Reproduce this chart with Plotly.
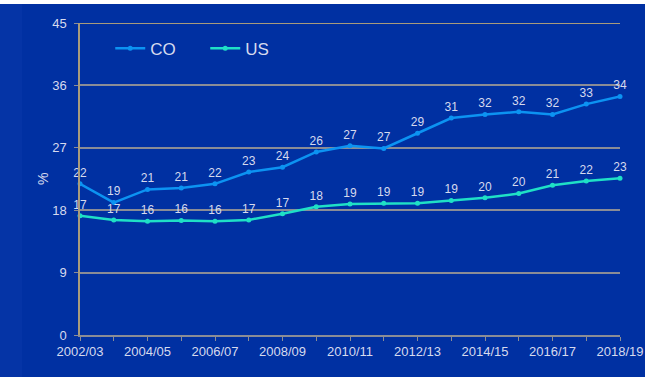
import plotly.graph_objects as go

years = ["2002/03", "2003/04", "2004/05", "2005/06", "2006/07", "2007/08", "2008/09",
         "2009/10", "2010/11", "2011/12", "2012/13", "2013/14", "2014/15", "2015/16",
         "2016/17", "2017/18", "2018/19"]
co_values = [21.8, 19.1, 21.0, 21.2, 21.8, 23.5, 24.2, 26.4, 27.3, 26.9, 29.1, 31.3,
             31.8, 32.2, 31.8, 33.3, 34.4]
us_values = [17.2, 16.6, 16.4, 16.5, 16.4, 16.6, 17.5, 18.5, 18.9, 19.0, 19.0, 19.4,
             19.8, 20.4, 21.6, 22.2, 22.6]
co_labels = ["22", "19", "21", "21", "22", "23", "24", "26", "27", "27", "29", "31",
             "32", "32", "32", "33", "34"]
us_labels = ["17", "17", "16", "16", "16", "17", "17", "18", "19", "19", "19", "19",
             "20", "20", "21", "22", "23"]
y_ticks = [0, 9, 18, 27, 36, 45]

BG = "#0030A2"
TXT = "#D6DAEE"
FONT = "Liberation Sans, Arial, sans-serif"

xs = list(range(len(years)))
fig = go.Figure()
fig.add_trace(go.Scatter(
    x=xs, y=co_values, name="CO", mode="lines+markers+text",
    text=co_labels, textposition="top center",
    textfont=dict(color=TXT, size=12, family=FONT),
    line=dict(color="#0C93F2", width=2.5), marker=dict(size=5, color="#0C93F2"),
    cliponaxis=False))
fig.add_trace(go.Scatter(
    x=xs, y=us_values, name="US", mode="lines+markers+text",
    text=us_labels, textposition="top center",
    textfont=dict(color=TXT, size=12, family=FONT),
    line=dict(color="#1FE0C6", width=2.5), marker=dict(size=5, color="#1FE0C6"),
    cliponaxis=False))

H, T, B, L, R = 377, 23, 42, 80, 25
ph = H - T - B
pw = 645 - L - R
fig.update_layout(
    width=645, height=377,
    margin=dict(l=L, r=R, t=T, b=B, autoexpand=False),
    paper_bgcolor=BG, plot_bgcolor=BG,
    font=dict(family=FONT, color=TXT, size=13),
    showlegend=True,
    legend=dict(orientation="h", x=0.056, y=0.975, xanchor="left", yanchor="top",
                bgcolor="rgba(0,0,0,0)", font=dict(size=17, color=TXT, family=FONT),
                itemwidth=30, entrywidth=50, entrywidthmode="pixels"),
    xaxis=dict(range=[0, 16], tickvals=xs[::2], ticktext=years[::2], automargin=False,
               showgrid=False, zeroline=False, showline=True, linecolor="#8A8C96",
               linewidth=1.5, ticks="outside", ticklen=4, tickcolor="#8A8C96",
               minor=dict(dtick=1, ticks="outside", ticklen=4, tickcolor="#8A8C96"),
               tickfont=dict(size=13, color=TXT)),
    yaxis=dict(range=[0, 45], tickvals=y_ticks, showgrid=True, gridcolor="#8A8C96",
               gridwidth=1.5, zeroline=False, showline=True, linecolor="#A89B7C",
               linewidth=1.5, ticks="outside", ticklen=4, tickcolor="#8A8C96",
               ticklabelstandoff=5, automargin=False,
               tickfont=dict(size=13, color=TXT)),
    annotations=[
        dict(text="%", xref="paper", yref="paper", x=(43 - L) / pw, y=0.5,
             textangle=-90, showarrow=False, font=dict(size=14, color=TXT, family=FONT),
             xanchor="center", yanchor="middle"),
    ],
    shapes=[
        dict(type="rect", xref="paper", yref="paper", x0=-L / pw, x1=-(L - 22) / pw,
             y0=-B / ph, y1=1 + T / ph, fillcolor="#0534A6", line=dict(width=0),
             layer="below"),
        dict(type="rect", xref="paper", yref="paper", x0=-L / pw, x1=1 + R / pw,
             y0=1 + (T - 4) / ph, y1=1 + T / ph, fillcolor="white", line=dict(width=0)),
        dict(type="line", xref="paper", yref="y", x0=0, x1=1, y0=45, y1=45,
             line=dict(color="#A89B7C", width=2)),
    ],
)

fig.write_html("out.html")
